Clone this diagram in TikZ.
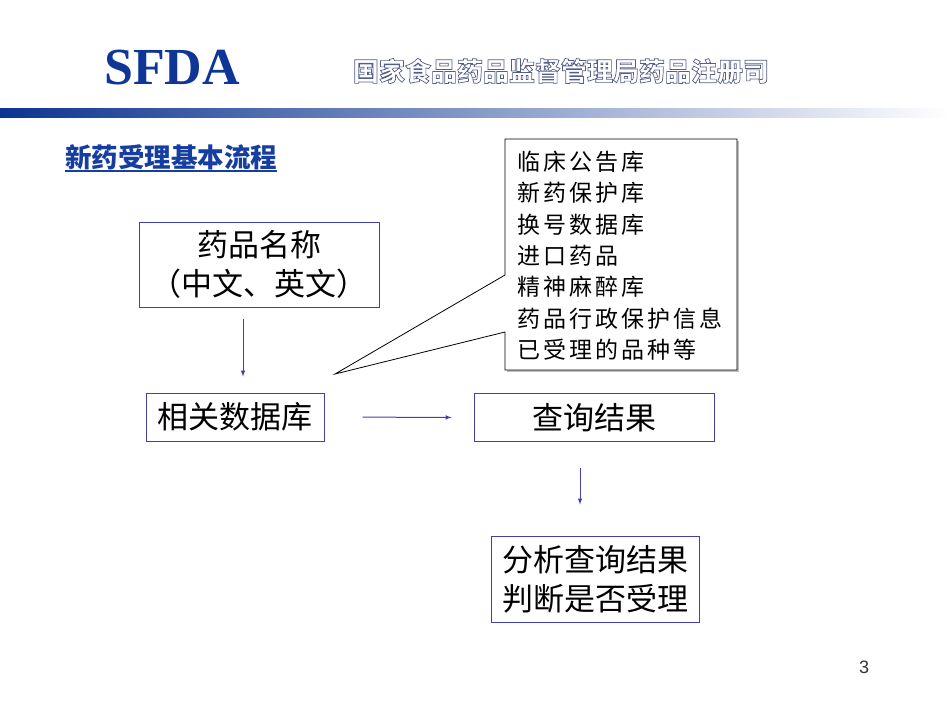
\documentclass[tikz,border=0pt]{standalone}
\usepackage{fontspec}
\setmainfont{Liberation Serif}
\newfontfamily\cjk{Noto Sans CJK SC}
\newfontfamily\kai{Noto Sans CJK SC}[LetterSpace=13]
\newfontfamily\arial{Liberation Sans}
\usetikzlibrary{arrows}
\usetikzlibrary{calc}
\definecolor{sfdablue}{RGB}{14,54,150}
\definecolor{barblue}{RGB}{12,52,145}
\definecolor{titleblue}{RGB}{22,62,160}
\definecolor{boxblue}{RGB}{64,64,176}
\definecolor{outlinegray}{RGB}{84,94,134}
\newcommand{\outlinetext}[1]{\special{pdf:literal direct 1 Tr 0.7 w}#1\special{pdf:literal direct 0 Tr}}

\begin{document}
\begin{tikzpicture}[x=1pt,y=-1pt,
    box/.style={draw=boxblue,line width=1pt,inner sep=0,align=center,font=\cjk\fontsize{31}{39}\selectfont},
    flow/.style={draw=boxblue,line width=1pt,-latex}]
    \useasboundingbox (0,0) rectangle (950,713);
    % header
    \node[font=\bfseries\fontsize{52}{52}\selectfont,text=sfdablue] (sfda) at (172,68) {SFDA};
    \node[font=\cjk\bfseries\fontsize{26}{26}\selectfont,text=outlinegray] (office) at (561,71) {\outlinetext{国家食品药品监督管理局药品注册司}};
    \shade[left color=barblue,right color=white] (0,108) rectangle (950,117);
    \node[font=\cjk\bfseries\fontsize{26.5}{26.5}\selectfont,text=titleblue,inner sep=0,anchor=base west] (title) at (65,167) {新药受理基本流程};
    \draw[titleblue,line width=1.2pt] ([yshift=-4pt]title.base west) -- ([yshift=-4pt]title.base east);

    % callout with the databases
    \fill[gray!50] (507,141) rectangle (739,372);
    \draw[fill=white,line width=0.8pt] (505,139) -- (737,139) -- (737,370) -- (505,370) -- (505,332) -- (335,374) -- (505,275) -- cycle;
    \node[anchor=north west,align=left,inner sep=0,font=\kai\fontsize{23}{31.3}\selectfont] (dblist) at (517,151) {临床公告库\\新药保护库\\换号数据库\\进口药品\\精神麻醉库\\药品行政保护信息\\已受理的品种等};

    % flow
    \node[box,minimum width=240pt,minimum height=85pt] (drugname) at (259,264.5) {药品名称\\（中文、英文）};
    \node[box,minimum width=178pt,minimum height=48pt] (database) at (235,417) {相关数据库};
    \node[box,minimum width=240pt,minimum height=48pt] (result) at (594,417.5) {查询结果};
    \node[box,minimum width=208pt,minimum height=86pt] (decide) at (595,579) {分析查询结果\\判断是否受理};
    \draw[flow,shorten <=11pt,shorten >=16pt] ([xshift=-16pt]drugname.south) -- ([xshift=8pt]database.north);
    \draw[flow,shorten <=38pt,shorten >=22pt] (database.east) -- (result.west);
    \draw[flow,shorten <=26pt,shorten >=31pt] ([xshift=-14pt]result.south) -- ([xshift=-15pt]decide.north);

    \node[font=\arial\fontsize{18}{18}\selectfont,text=black!80] (pagenum) at (864,667) {3};
\end{tikzpicture}
\end{document}
